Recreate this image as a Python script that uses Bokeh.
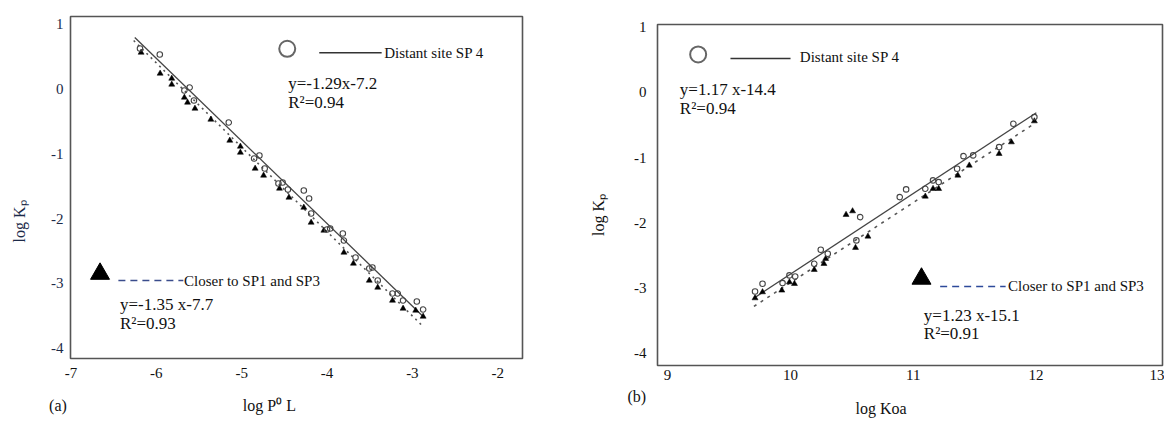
from bokeh.plotting import figure
from bokeh.layouts import row, column
from bokeh.models import Range1d, FixedTicker, Label, Spacer, Title
from bokeh.embed import file_html
from bokeh.resources import INLINE

SERIF = "Liberation Serif"
NB = "\u00a0"

# ---------------- Panel (a): log Kp vs log P0L ----------------
A_X_TICKS = [-7, -6, -5, -4, -3, -2]
A_Y_TICKS = [-4, -3, -2, -1, 0, 1]

A_SP4_X = [-5.959, -6.191, -5.609, -5.671, -5.559, -5.151, -4.792, -4.854, -4.730,
           -4.520, -4.569, -4.458, -4.272, -4.210, -4.186, -3.963, -4.000, -3.815,
           -3.802, -3.666, -3.505, -3.468, -3.406, -3.233, -3.171, -3.109, -2.948, -2.874]
A_SP4_Y = [0.523, 0.615, 0.015, -0.031, -0.185, -0.523, -1.031, -1.077, -1.231,
           -1.446, -1.462, -1.554, -1.569, -1.692, -1.923, -2.154, -2.169, -2.231,
           -2.338, -2.600, -2.769, -2.754, -2.954, -3.154, -3.154, -3.262, -3.277, -3.400]

A_SP13_X = [-6.178, -5.955, -5.819, -5.819, -5.671, -5.634, -5.547, -5.361, -5.139,
            -5.015, -5.015, -4.842, -4.743, -4.557, -4.446, -4.272, -4.186, -4.037,
            -3.802, -3.691, -3.505, -3.406, -3.233, -3.109, -2.961, -2.874]
A_SP13_Y = [0.554, 0.231, 0.062, 0.154, -0.138, -0.215, -0.308, -0.477, -0.800,
            -0.985, -0.892, -1.231, -1.338, -1.538, -1.677, -1.831, -2.062, -2.185,
            -2.523, -2.692, -2.954, -3.062, -3.262, -3.385, -3.415, -3.508]

A_FIT_SP4_X = [-6.252, -2.862]
A_FIT_SP4_Y = [0.785, -3.523]
A_FIT_SP13_X = [-6.265, -2.887]
A_FIT_SP13_Y = [0.738, -3.646]

A_EQ_SP4 = ["y=-1.29x-7.2", "R\u00b2=0.94"]
A_EQ_SP13 = ["y=-1.35 x-7.7", "R\u00b2=0.93"]
A_XLABEL = "log P\u2070 L"
A_PANEL = "(a)"

# ---------------- Panel (b): log Kp vs log Koa ----------------
B_X_TICKS = [9, 10, 11, 12, 13]
B_Y_TICKS = [-4, -3, -2, -1, 0, 1]

B_SP4_X = [9.712, 9.773, 9.936, 9.992, 10.039, 10.194, 10.247, 10.304, 10.537, 10.568,
           10.890, 10.942, 11.098, 11.161, 11.207, 11.357, 11.409, 11.488, 11.699,
           11.815, 11.986]
B_SP4_Y = [-3.054, -2.936, -2.926, -2.808, -2.824, -2.629, -2.414, -2.475, -2.271, -1.914,
           -1.607, -1.489, -1.479, -1.351, -1.377, -1.172, -0.979, -0.968, -0.840,
           -0.482, -0.380]

B_SP13_X = [9.712, 9.773, 9.930, 9.992, 10.033, 10.194, 10.273, 10.287, 10.453, 10.506,
            10.530, 10.631, 11.098, 11.161, 11.207, 11.363, 11.456, 11.699, 11.799, 11.986]
B_SP13_Y = [-3.156, -3.064, -3.038, -2.911, -2.936, -2.721, -2.629, -2.552, -1.877, -1.822,
            -2.383, -2.210, -1.597, -1.479, -1.479, -1.275, -1.121, -0.942, -0.764, -0.442]

B_FIT_SP4_X = [9.703, 12.002]
B_FIT_SP4_Y = [-3.156, -0.313]
B_FIT_SP13_X = [9.703, 11.993]
B_FIT_SP13_Y = [-3.284, -0.472]

B_EQ_SP4 = ["y=1.17 x-14.4", "R\u00b2=0.94"]
B_EQ_SP13 = ["y=1.23 x-15.1", "R\u00b2=0.91"]
B_XLABEL = "log Koa"
B_PANEL = "(b)"

YLABEL = "log K\u209a"
LEG_SP4 = "Distant site SP 4"
LEG_SP13 = "Closer to SP1 and SP3"


def make_fig(width, height, xr, yr, xticks, yticks, bl, br, bt, bb,
             ylab_color, x_standoff, y_standoff):
    p = figure(width=width, height=height, x_range=Range1d(*xr), y_range=Range1d(*yr),
               output_backend="svg", toolbar_location=None, title=None,
               min_border_left=bl, min_border_right=br,
               min_border_top=bt, min_border_bottom=bb)
    p.grid.visible = False
    p.outline_line_color = "#555555"
    p.outline_line_width = 1.6
    p.background_fill_color = "white"
    p.border_fill_color = "white"
    p.xaxis.ticker = FixedTicker(ticks=xticks)
    p.yaxis.ticker = FixedTicker(ticks=yticks)
    p.xaxis.major_label_overrides = {t: str(t) for t in xticks}
    p.yaxis.major_label_overrides = {t: str(t) for t in yticks}
    for ax in (p.xaxis, p.yaxis):
        ax.axis_line_color = None
        ax.major_tick_line_color = None
        ax.minor_tick_line_color = None
        ax.major_tick_out = 0
        ax.major_tick_in = 0
        ax.major_label_text_font = SERIF
        ax.major_label_text_font_size = "15px"
        ax.axis_label_text_font = SERIF
        ax.axis_label_text_font_size = "16px"
        ax.axis_label_text_font_style = "normal"
    p.xaxis.major_label_text_color = "#111111"
    p.yaxis.major_label_text_color = ylab_color
    p.xaxis.axis_label_text_color = "#111111"
    p.yaxis.axis_label_text_color = ylab_color
    p.xaxis.major_label_standoff = x_standoff
    p.yaxis.major_label_standoff = y_standoff
    return p


def txt(p, x, y, s, size="15px", align="left", baseline="middle", color="#111111"):
    p.add_layout(Label(x=x, y=y, text=s, text_font=SERIF, text_font_size=size,
                       text_align=align, text_baseline=baseline, text_color=color))


def draw_data(p, sp4x, sp4y, sp13x, sp13y, f4x, f4y, f13x, f13y, dash):
    p.line(f4x, f4y, line_color="#444444", line_width=1.3)
    p.line(f13x, f13y, line_color="#555555", line_width=1.6, line_dash=dash)
    p.scatter(sp13x, sp13y, marker="triangle", size=6, fill_color="black",
              line_color="black", line_width=0.5)
    p.scatter(sp4x, sp4y, marker="circle", size=5.5, fill_color=None,
              line_color="#444444", line_width=1.1)


# ---------------- build panel (a) ----------------
pa = make_fig(560, 422, (-7.005, -1.71), (-4.154, 1.108), A_X_TICKS, A_Y_TICKS,
              70, 38, 16, 64, "#1c2a48", 9, 7)
draw_data(pa, A_SP4_X, A_SP4_Y, A_SP13_X, A_SP13_Y,
          A_FIT_SP4_X, A_FIT_SP4_Y, A_FIT_SP13_X, A_FIT_SP13_Y, "2 4")
pa.xaxis.axis_label = A_PANEL + NB * 44 + A_XLABEL + NB * 62
pa.xaxis.axis_label_standoff = 16
pa.yaxis.axis_label = YLABEL + NB * 17
pa.yaxis.axis_label_standoff = 20

pa.scatter([-4.466], [0.611], marker="circle", size=16, fill_color=None,
           line_color="#666666", line_width=2)
pa.line([-4.091, -3.360], [0.549, 0.549], line_color="#333333", line_width=1.5)
txt(pa, -3.330, 0.549, LEG_SP4)
txt(pa, -4.454, 0.072, A_EQ_SP4[0], size="17px")
txt(pa, -4.454, -0.211, A_EQ_SP4[1], size="17px")

pa.scatter([-6.659], [-2.851], marker="triangle", size=19, fill_color="black",
           line_color="black")
pa.line([-6.444, -5.683], [-2.954, -2.954], line_color="#3a4c8c", line_width=1.5,
        line_dash="7 5")
txt(pa, -5.675, -2.954, LEG_SP13)
txt(pa, -6.425, -3.323, A_EQ_SP13[0], size="17px")
txt(pa, -6.425, -3.608, A_EQ_SP13[1], size="17px")

# ---------------- build panel (b) ----------------
pb = make_fig(604, 414, (8.918, 13.029), (-4.19, 1.04), B_X_TICKS, B_Y_TICKS,
              97, 2, 16, 57, "#111111", 4, 11)
draw_data(pb, B_SP4_X, B_SP4_Y, B_SP13_X, B_SP13_Y,
          B_FIT_SP4_X, B_FIT_SP4_Y, B_FIT_SP13_X, B_FIT_SP13_Y, "3 5")
pb.add_layout(Title(text=B_PANEL + "\n" + NB * 57 + B_XLABEL, align="left", offset=-30,
                    standoff=7, text_font=SERIF, text_font_size="16px",
                    text_font_style="normal", text_color="#111111",
                    text_line_height=0.7), "below")
pb.yaxis.axis_label = YLABEL + NB * 10
pb.yaxis.axis_label_standoff = 24

pb.scatter([9.249], [0.581], marker="circle", size=16, fill_color=None,
           line_color="#666666", line_width=2)
pb.line([9.512, 10.001], [0.520, 0.520], line_color="#333333", line_width=1.5)
txt(pb, 10.077, 0.540, LEG_SP4)
txt(pb, 9.100, 0.040, B_EQ_SP4[0], size="17px")
txt(pb, 9.100, -0.252, B_EQ_SP4[1], size="17px")

pb.scatter([11.067], [-2.859], marker="triangle", size=19, fill_color="black",
           line_color="black")
pb.line([11.219, 11.752], [-2.977, -2.977], line_color="#2d4a9a", line_width=1.5,
        line_dash="7 5")
txt(pb, 11.771, -2.977, LEG_SP13)
txt(pb, 11.086, -3.422, B_EQ_SP13[0], size="17px")
txt(pb, 11.086, -3.693, B_EQ_SP13[1], size="17px")

layout = row(pa, column(Spacer(width=604, height=8), pb))
open("out.html", "w").write(file_html(layout, INLINE))
